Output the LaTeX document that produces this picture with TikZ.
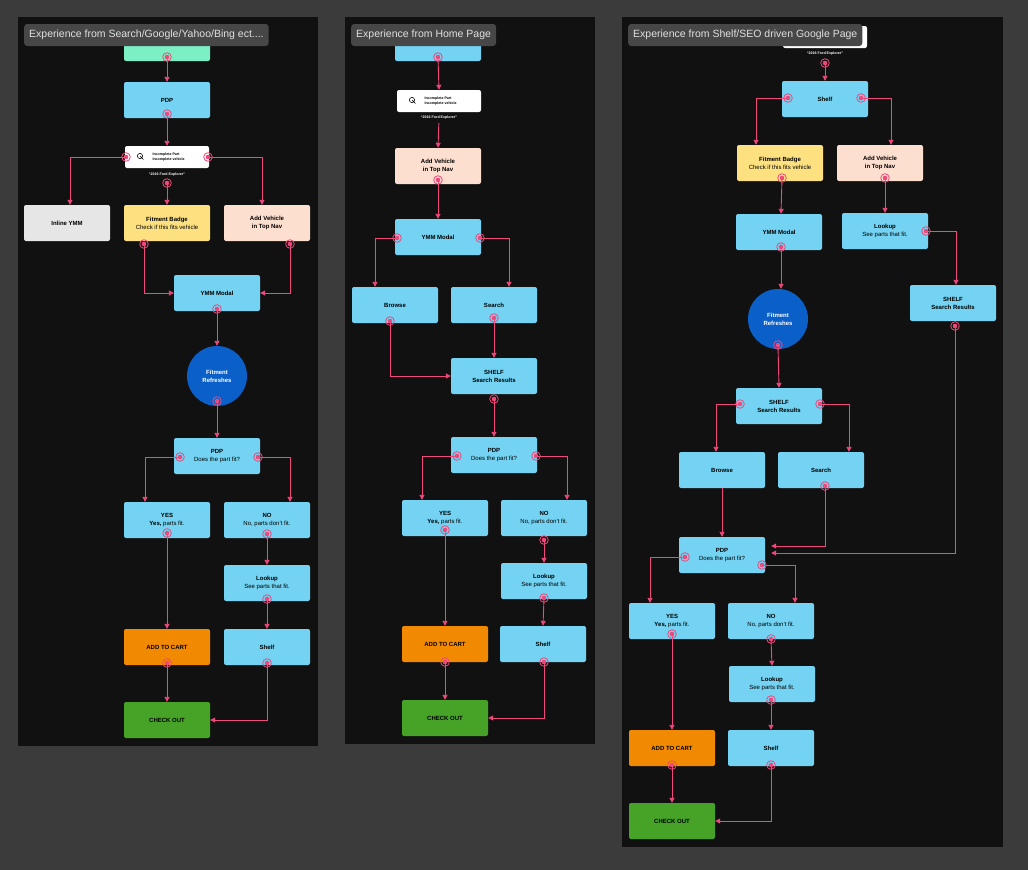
\documentclass[tikz,border=0pt]{standalone}
\usepackage{fontspec}
\setmainfont{Liberation Sans}
\usetikzlibrary{arrows.meta}
\definecolor{bgc}{HTML}{3B3B3B}
\definecolor{pan}{HTML}{111111}
\definecolor{pk}{HTML}{F0487A}
\definecolor{blu}{HTML}{74D3F2}
\definecolor{pch}{HTML}{FCDFCF}
\definecolor{yel}{HTML}{FDE181}
\definecolor{gry}{HTML}{E6E6E6}
\definecolor{grn}{HTML}{46A327}
\definecolor{org}{HTML}{F18A00}
\definecolor{cir}{HTML}{0A5FC9}
\definecolor{mnt}{HTML}{7CEFC5}
\definecolor{ttl}{HTML}{474747}
\tikzset{
 bx/.style={draw=none,fill=#1,rounded corners=2pt,minimum width=86pt,minimum height=36pt,align=center,font=\fontsize{6}{8}\selectfont,text=black},
 circ/.style={circle,fill=cir,minimum size=60pt,align=center,font=\bfseries\fontsize{6}{8}\selectfont,text=white},
 conn/.style={draw=pk,line width=0.9pt,-{Triangle[length=5pt,width=5pt]}},
 ttlb/.style={fill=ttl,rounded corners=3pt,text=white!88!black,font=\fontsize{10.5}{12}\selectfont,anchor=west,inner xsep=5pt,minimum height=22pt},
 srch/.style={fill=white,rounded corners=2pt,minimum width=84pt,minimum height=22pt},
 tiny/.style={font=\bfseries\fontsize{3.6}{4.2}\selectfont,text=white}
}
\newcommand\port[1]{\fill[pk] (#1) circle(2.3pt); \draw[pk,line width=0.8pt] (#1) circle(4.3pt);}
\newcommand\srchbox[2]{% name, position
 \node[srch] (#1) at (#2) {};
 \draw[black,line width=0.6pt] ([xshift=-27pt,yshift=1pt]#1.center) circle(2.6pt) -- ++(3.5pt,-3.5pt);
 \node[font=\bfseries\fontsize{3.6}{5}\selectfont,align=left,anchor=west] at ([xshift=-18pt]#1.center) {Incomplete Part\\Incomplete vehicle};
}
\begin{document}
\begin{tikzpicture}[x=1pt,y=-1pt]
\fill[bgc] (0,0) rectangle (1028,870);
\useasboundingbox (0,0) rectangle (1028,870);
\fill[pan] (18,17) rectangle (318,746);
\fill[pan] (345,17) rectangle (595,744);
\fill[pan] (622,17) rectangle (1003,847);

% ===== Panel 1 =====
\node[bx=mnt] (se1) at (167,43) {Search Engine};
\node[bx=blu] (pdp1) at (167,100) {\textbf{PDP}};
\srchbox{sb1}{167,157}
\node[tiny] (ft1) at (167,175) {``2016 Ford Explorer''};
\node[bx=gry] (in1) at (67,223) {\textbf{Inline YMM}};
\node[bx=yel] (fb1) at (167,223) {\textbf{Fitment Badge}\\Check if this fits vehicle};
\node[bx=pch] (av1) at (267,223) {\textbf{Add Vehicle}\\\textbf{in Top Nav}};
\node[bx=blu] (ym1) at (217,293) {\textbf{YMM Modal}};
\node[circ] (fr1) at (217,376) {Fitment\\Refreshes};
\node[bx=blu] (pd1) at (217,456) {\textbf{PDP}\\Does the part fit?};
\node[bx=blu] (ye1) at (167,520) {\textbf{YES}\\\textbf{Yes,} parts fit.};
\node[bx=blu] (no1) at (267,520) {\textbf{NO}\\No, parts don't fit.};
\node[bx=blu] (lk1) at (267,583) {\textbf{Lookup}\\See parts that fit.};
\node[bx=org] (ad1) at (167,647) {\textbf{ADD TO CART}};
\node[bx=blu] (sh1) at (267,647) {\textbf{Shelf}};
\node[bx=grn] (co1) at (167,720) {\textbf{CHECK OUT}};
\coordinate (a1) at (167,57); \coordinate (b1) at (167,114);
\coordinate (c1) at (126,157); \coordinate (d1) at (208,157); \coordinate (e1) at (167,183);
\coordinate (f1) at (144,244); \coordinate (g1) at (290,244); \coordinate (h1) at (217,309);
\coordinate (i1) at (217,401); \coordinate (j1) at (180,457); \coordinate (k1) at (258,457);
\coordinate (l1) at (167,533); \coordinate (m1) at (267,534); \coordinate (n1) at (267,599);
\coordinate (o1) at (167,663); \coordinate (q1) at (267,663);
\draw[conn] (a1) -- (pdp1.north);
\draw[conn] (b1) -- (sb1.north);
\draw[conn] (c1) -| ([xshift=3pt]in1.north);
\draw[conn] (d1) -| ([xshift=-5pt]av1.north);
\draw[conn] (e1) -- (fb1.north);
\draw[conn] (f1) |- (ym1.west);
\draw[conn] (g1) |- (ym1.east);
\draw[conn] (h1) -- (fr1.north);
\draw[conn] (i1) -- (pd1.north);
\draw[conn] (j1) -| ([xshift=-22pt]ye1.north);
\draw[conn] (k1) -| ([xshift=23pt]no1.north);
\draw[conn] (l1) -- (ad1.north);
\draw[conn] (m1) -- (lk1.north);
\draw[conn] (n1) -- (sh1.north);
\draw[conn] (o1) -- (co1.north);
\draw[conn] (q1) |- (co1.east);
\foreach \p in {a1,b1,c1,d1,e1,f1,g1,h1,i1,j1,k1,l1,m1,n1,o1,q1} {\port{\p}}
\node[ttlb] (t1) at (24,35) {Experience from Search/Google/Yahoo/Bing ect....};

% ===== Panel 2 =====
\node[bx=blu] (tp2) at (438,43) {};
\srchbox{sb2}{439,101}
\node[tiny] (ft2) at (439,118) {``2016 Ford Explorer''};
\node[bx=pch] (av2) at (438,166) {\textbf{Add Vehicle}\\\textbf{in Top Nav}};
\node[bx=blu] (ym2) at (438,237) {\textbf{YMM Modal}};
\node[bx=blu] (br2) at (395,305) {\textbf{Browse}};
\node[bx=blu] (se2) at (494,305) {\textbf{Search}};
\node[bx=blu] (ss2) at (494,376) {\textbf{SHELF}\\\textbf{Search Results}};
\node[bx=blu] (pd2) at (494,455) {\textbf{PDP}\\Does the part fit?};
\node[bx=blu] (ye2) at (445,518) {\textbf{YES}\\\textbf{Yes,} parts fit.};
\node[bx=blu] (no2) at (544,518) {\textbf{NO}\\No, parts don't fit.};
\node[bx=blu] (lk2) at (544,581) {\textbf{Lookup}\\See parts that fit.};
\node[bx=org] (ad2) at (445,644) {\textbf{ADD TO CART}};
\node[bx=blu] (sh2) at (543,644) {\textbf{Shelf}};
\node[bx=grn] (co2) at (445,718) {\textbf{CHECK OUT}};
\coordinate (a2) at (438,57); \coordinate (b2) at (438,180);
\coordinate (c2) at (397,238); \coordinate (d2) at (480,238);
\coordinate (e2) at (390,321); \coordinate (f2) at (494,318); \coordinate (g2) at (494,399);
\coordinate (h2) at (457,456); \coordinate (i2) at (536,456);
\coordinate (j2) at (445,530); \coordinate (k2) at (544,540); \coordinate (l2) at (544,598);
\coordinate (m2) at (445,662); \coordinate (n2) at (544,662);
\draw[conn] (a2) -- (sb2.north);
\draw[conn] (ft2) -- (av2.north);
\draw[conn] (b2) -- (ym2.north);
\draw[conn] (c2) -| ([xshift=-20pt]br2.north);
\draw[conn] (d2) -| ([xshift=15pt]se2.north);
\draw[conn] (e2) |- (ss2.west);
\draw[conn] (f2) -- (ss2.north);
\draw[conn] (g2) -- (pd2.north);
\draw[conn] (h2) -| ([xshift=-23pt]ye2.north);
\draw[conn] (i2) -| ([xshift=23pt]no2.north);
\draw[conn] (j2) -- (ad2.north);
\draw[conn] (k2) -- (lk2.north);
\draw[conn] (l2) -- (sh2.north);
\draw[conn] (m2) -- (co2.north);
\draw[conn] (n2) |- (co2.east);
\foreach \p in {a2,b2,c2,d2,e2,f2,g2,h2,i2,j2,k2,l2,m2,n2} {\port{\p}}
\node[ttlb] (t2) at (351,35) {Experience from Home Page};

% ===== Panel 3 =====
\node[srch] (tp3) at (825,37) {};
\node[tiny] (ft3) at (825,54) {``2016 Ford Explorer''};
\node[bx=blu] (sh3) at (825,99) {\textbf{Shelf}};
\node[bx=yel] (fb3) at (780,163) {\textbf{Fitment Badge}\\Check if this fits vehicle};
\node[bx=pch] (av3) at (880,163) {\textbf{Add Vehicle}\\\textbf{in Top Nav}};
\node[bx=blu] (ym3) at (779,232) {\textbf{YMM Modal}};
\node[bx=blu] (lk3) at (885,231) {\textbf{Lookup}\\See parts that fit.};
\node[bx=blu] (sr3) at (953,303) {\textbf{SHELF}\\\textbf{Search Results}};
\node[circ] (fr3) at (778,319) {Fitment\\Refreshes};
\node[bx=blu] (ss3) at (779,406) {\textbf{SHELF}\\\textbf{Search Results}};
\node[bx=blu] (br3) at (722,470) {\textbf{Browse}};
\node[bx=blu] (se3) at (821,470) {\textbf{Search}};
\node[bx=blu] (pd3) at (722,555) {\textbf{PDP}\\Does the part fit?};
\node[bx=blu] (ye3) at (672,621) {\textbf{YES}\\\textbf{Yes,} parts fit.};
\node[bx=blu] (no3) at (771,621) {\textbf{NO}\\No, parts don't fit.};
\node[bx=blu] (lb3) at (772,684) {\textbf{Lookup}\\See parts that fit.};
\node[bx=org] (ad3) at (672,748) {\textbf{ADD TO CART}};
\node[bx=blu] (sb3) at (771,748) {\textbf{Shelf}};
\node[bx=grn] (co3) at (672,821) {\textbf{CHECK OUT}};
\coordinate (a3) at (825,63); \coordinate (b3) at (788,98); \coordinate (c3) at (861,98);
\coordinate (d3) at (782,178); \coordinate (e3) at (885,178); \coordinate (f3) at (781,247);
\coordinate (g3) at (926,231); \coordinate (h3) at (955,326); \coordinate (i3) at (778,345);
\coordinate (j3) at (740,404); \coordinate (k3) at (820,404); \coordinate (l3) at (825,486);
\coordinate (m3) at (685,557); \coordinate (n3) at (762,565);
\coordinate (o3) at (672,634); \coordinate (q3) at (771,639); \coordinate (r3) at (771,700);
\coordinate (s3) at (672,765); \coordinate (u3) at (771,765);
\draw[conn] (a3) -- (sh3.north);
\draw[conn] (b3) -| ([xshift=-24pt]fb3.north);
\draw[conn] (c3) -| ([xshift=11pt]av3.north);
\draw[conn] (d3) -- ([xshift=2pt]ym3.north);
\draw[conn] (e3) -- (lk3.north);
\draw[conn] (f3) -- ([xshift=3pt]fr3.north);
\draw[conn] (g3) -| ([xshift=3pt]sr3.north);
\draw[conn] (i3) -- (ss3.north);
\draw[conn] (j3) -| ([xshift=-6pt]br3.north);
\draw[conn] (k3) -| ([xshift=28pt]se3.north);
\draw[conn] (br3.south) -- (pd3.north);
\draw[conn] (l3) |- ([xshift=6pt,yshift=9pt]pd3.east);
\draw[conn] (h3) |- ([xshift=6pt,yshift=2pt]pd3.east);
\draw[conn] (m3) -| ([xshift=-22pt]ye3.north);
\draw[conn] (n3) -| ([xshift=24pt]no3.north);
\draw[conn] (o3) -- (ad3.north);
\draw[conn] (q3) -- (lb3.north);
\draw[conn] (r3) -- (sb3.north);
\draw[conn] (s3) -- (co3.north);
\draw[conn] (u3) |- (co3.east);
\foreach \p in {a3,b3,c3,d3,e3,f3,g3,h3,i3,j3,k3,l3,m3,n3,o3,q3,r3,s3,u3} {\port{\p}}
\node[ttlb] (t3) at (628,35) {Experience from Shelf/SEO driven Google Page};
\end{tikzpicture}
\end{document}
